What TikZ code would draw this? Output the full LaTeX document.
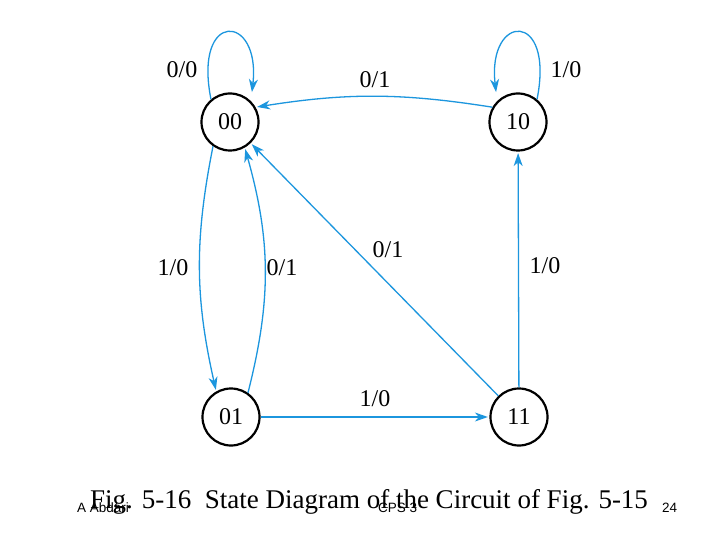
\documentclass[tikz,border=0pt]{standalone}
\usepackage{fontspec}
\setmainfont{Liberation Serif}
\newfontfamily\arialfont{Liberation Sans}
\usetikzlibrary{arrows.meta}
\definecolor{edgeblue}{RGB}{28,150,222}
\tikzset{
  state/.style={circle, draw=black, line width=2.2pt, minimum size=57pt, inner sep=0pt, font=\fontsize{24}{24}\selectfont},
  edge/.style={draw=edgeblue, line width=1.3pt, -{Stealth[length=13pt,width=9pt,inset=4pt]}, shorten >=1.5pt},
  lbl/.style={font=\fontsize{24}{24}\selectfont, inner sep=0pt},
  foot/.style={font=\arialfont\fontsize{13.5}{13.5}\selectfont, inner sep=0pt, anchor=base west}
}
\begin{document}
\begin{tikzpicture}[x=1pt,y=-1pt]
\path[use as bounding box, fill=white] (0,0) rectangle (720,540);
\node[state] (n00) at (230,122) {00};
\node[state] (n10) at (518,122) {10};
\node[state] (n01) at (231,417) {01};
\node[state] (n11) at (519,417) {11};
% self loops
\draw[edge, shorten >=9pt] (n00.130) .. controls +(-18,-90) and +(10,-88) .. (n00.45);
\draw[edge, shorten >=9pt] (n10.50) .. controls +(18,-90) and +(-10,-88) .. (n10.135);
% transitions
\draw[edge] (n10.150) to[bend right=9] (n00.30);
\draw[edge] (n00.235) to[bend right=12] (n01.120);
\draw[edge] (n01.55) to[bend right=15] (n00.300);
\draw[edge] (n11) -- (n00);
\draw[edge] (n11) -- (n10);
\draw[edge] (n01) -- (n11);
% labels
\node[lbl] (l1) at (182,70) {0/0};
\node[lbl] (l2) at (566,70) {1/0};
\node[lbl] (l3) at (375,80) {0/1};
\node[lbl] (l4) at (173,268) {1/0};
\node[lbl] (l5) at (282,268) {0/1};
\node[lbl] (l6) at (388,250) {0/1};
\node[lbl] (l7) at (545,266) {1/0};
\node[lbl] (l8) at (375,399) {1/0};
% caption and footer
\node[font=\fontsize{27}{27}\selectfont, inner sep=0pt, anchor=base] (cap) at (369,508) {Fig. 5-16\ \ State Diagram of the Circuit of Fig. 5-15};
\node[foot] (f1) at (77,512) {A Abdari};
\node[foot] (f2) at (378,512) {CPS 3};
\node[foot] (f3) at (662,512) {24};
\end{tikzpicture}
\end{document}
